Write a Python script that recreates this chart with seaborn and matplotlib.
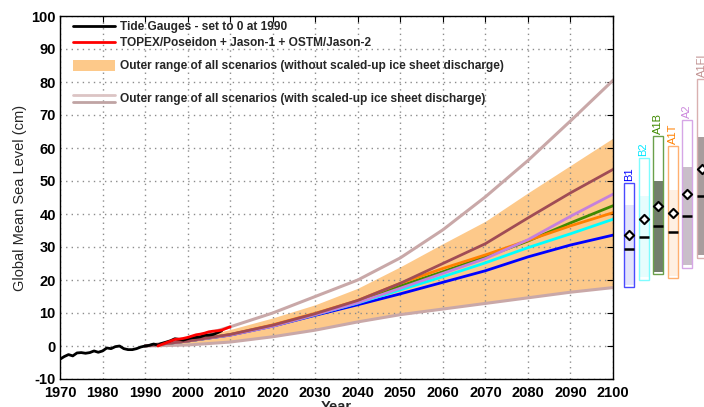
import numpy as np
import pandas as pd
import matplotlib
matplotlib.use("Agg")
import matplotlib.pyplot as plt
import seaborn as sns
from matplotlib.lines import Line2D
from matplotlib.patches import Patch
from matplotlib.legend_handler import HandlerBase

# ---- observed sea level (cm, relative to 1990) ----
tide_years = list(range(1970, 2009))
tide_level = [-4.0, -3.2, -2.6, -3.0, -2.1, -2.0, -2.2, -2.0, -1.5, -1.9,
              -1.5, -0.6, -0.8, -0.2, 0.0, -0.8, -1.1, -1.1, -0.8, -0.3,
              0.0, 0.2, 0.6, 0.3, 0.8, 1.2, 1.6, 2.2, 2.0, 1.8,
              2.2, 2.5, 2.6, 2.8, 3.2, 3.3, 3.5, 4.0, 4.6]

sat_years = list(range(1993, 2011))
sat_level = [0.0, 0.5, 1.0, 1.5, 2.0, 2.1, 2.3, 2.6, 3.0, 3.4,
             3.6, 3.9, 4.3, 4.5, 4.6, 4.8, 5.3, 5.8]

# ---- projections (cm) ----
proj_years = [1990, 2000, 2010, 2020, 2030, 2040, 2050, 2060, 2070, 2080, 2090, 2100]
band_high = [0.0, 2.0, 5.0, 8.5, 12.5, 17.5, 24.0, 31.0, 37.8, 46.4, 54.7, 63.0]
band_low = [0.0, 0.5, 1.4, 3.0, 5.1, 7.6, 9.8, 11.5, 13.1, 14.8, 16.5, 17.9]
ice_high = [0.0, 2.0, 5.8, 10.0, 15.0, 20.0, 26.7, 35.2, 45.2, 56.2, 68.2, 80.5]
ice_low = [0.0, 0.3, 1.2, 2.8, 4.8, 7.3, 9.5, 11.2, 12.9, 14.6, 16.3, 17.7]

scenarios = ["B1", "B2", "A1B", "A1T", "A2", "A1FI"]
proj_B1 = [0.0, 1.5, 3.3, 6.0, 9.3, 12.5, 15.8, 19.3, 22.8, 27.0, 30.6, 33.6]
proj_B2 = [0.0, 1.5, 3.4, 6.1, 9.5, 13.0, 17.0, 21.0, 25.2, 29.8, 34.0, 38.4]
proj_A1B = [0.0, 1.5, 3.4, 6.2, 9.6, 13.3, 18.2, 22.5, 27.0, 31.8, 37.3, 42.5]
proj_A1T = [0.0, 1.5, 3.5, 6.4, 9.9, 13.8, 19.0, 23.5, 27.6, 32.0, 36.4, 40.4]
proj_A2 = [0.0, 1.5, 3.3, 6.0, 9.5, 13.1, 17.5, 22.0, 26.5, 32.2, 39.3, 46.0]
proj_A1FI = [0.0, 1.5, 3.5, 6.3, 9.8, 13.8, 19.0, 25.0, 31.0, 38.8, 46.4, 53.5]

# ---- 2100 ranges per scenario (cm) ----
range_top = [49.4, 57.0, 63.6, 60.6, 68.5, 80.9]
range_bottom = [17.9, 20.0, 21.8, 20.6, 23.6, 26.7]
core_top = [42.7, 45.5, 50.0, 47.3, 54.2, 63.3]
core_bottom = [18.5, 21.0, 22.4, 21.2, 24.5, 27.5]
range_median = [29.4, 33.0, 36.4, 34.5, 39.4, 45.5]
value_2100 = [33.6, 38.4, 42.5, 40.4, 46.0, 53.5]

line_colors = ["#0000ff", "#00ffff", "#3f8a00", "#ff8000", "#c580dd", "#a04c55"]
label_colors = ["#0000ff", "#00e8ff", "#3f8a00", "#ff8000", "#cc88dd", "#c09090"]
edge_colors = ["#4a4aff", "#7ffcff", "#6aa04a", "#ffb070", "#d6a6e6", "#d9b0b0"]
core_colors = ["#e4e4fb", "#e6fdfd", "#737e6c", "#fff0e2", "#c9bec9", "#a89d9d"]

sns.set_theme(style="white")
plt.rcParams["font.family"] = ["Liberation Sans", "DejaVu Sans"]

fig = plt.figure(figsize=(7.04, 4.07), dpi=100)
ax = fig.add_axes([60 / 704, 28 / 407, 553 / 704, 363 / 407])

band_col = "#fdc98a"
ice_col = "#c9a8a8"

ax.fill_between(proj_years, band_low, band_high, color=band_col, lw=0, zorder=1)
sns.lineplot(x=proj_years, y=ice_high, color=ice_col, lw=2.2, ax=ax, zorder=2)
sns.lineplot(x=proj_years, y=ice_low, color=ice_col, lw=2.2, ax=ax, zorder=2)

proj_df = pd.DataFrame({
    "year": proj_years * 6,
    "level": proj_B1 + proj_B2 + proj_A1B + proj_A1T + proj_A2 + proj_A1FI,
    "scenario": sum([[s] * len(proj_years) for s in scenarios], []),
})
sns.lineplot(data=proj_df, x="year", y="level", hue="scenario",
             hue_order=scenarios, palette=line_colors, lw=2.0,
             legend=False, ax=ax, zorder=3)

sns.lineplot(x=tide_years, y=tide_level, color="black", lw=2.0, ax=ax, zorder=4)
sns.lineplot(x=sat_years, y=sat_level, color="#ff0000", lw=2.0, ax=ax, zorder=5)

ax.set_xlim(1970, 2100)
ax.set_ylim(-10, 100)
xt = list(range(1970, 2101, 10))
yt = list(range(-10, 101, 10))
ax.set_xticks(xt)
ax.set_yticks(yt)
ax.set_xticklabels([str(v) for v in xt], fontweight="bold", fontsize=10.5)
ax.set_yticklabels([str(v) for v in yt], fontweight="bold", fontsize=10.5)
ax.tick_params(direction="in", top=True, right=True, length=4, width=0.8,
               colors="black", pad=3)
ax.tick_params(axis="x", pad=5)
ax.set_axisbelow("line")
ax.xaxis.grid(True, linestyle=(0, (1, 3)), color="#8c8c8c", lw=1.0)
ax.yaxis.grid(True, linestyle=(0, (1, 3)), color="#8c8c8c", lw=1.0)
for sp in ax.spines.values():
    sp.set_color("black")
    sp.set_linewidth(1.0)
    sp.set_zorder(10)
ax.set_xlabel("Year", fontweight="bold", fontsize=10.5, labelpad=0)
ax.set_ylabel("Global Mean Sea Level (cm)", fontsize=10.5, labelpad=3)


class HandlerDoubleLine(HandlerBase):
    def create_artists(self, legend, orig_handle, xdescent, ydescent,
                       width, height, fontsize, trans):
        top, bottom = orig_handle
        y1 = height * 0.8 - ydescent
        y2 = height * 0.2 - ydescent
        a = Line2D([-xdescent, width - xdescent], [y1, y1], color=top.get_color(),
                   lw=top.get_linewidth(), transform=trans)
        b = Line2D([-xdescent, width - xdescent], [y2, y2], color=bottom.get_color(),
                   lw=bottom.get_linewidth(), transform=trans)
        return [a, b]


leg_font = {"weight": "bold", "size": 8.6}
leg1 = ax.legend(
    handles=[Line2D([], [], color="black", lw=2), Line2D([], [], color="#ff0000", lw=2)],
    labels=["Tide Gauges - set to 0 at 1990",
            "TOPEX/Poseidon + Jason-1 + OSTM/Jason-2"],
    loc="upper left", bbox_to_anchor=(0.0235, 0.985), frameon=False,
    prop=leg_font, handlelength=3.5, handletextpad=0.4, labelspacing=0.33,
    borderpad=0, borderaxespad=0)
ax.add_artist(leg1)
ice_pair = (Line2D([], [], color="#dcc4c4", lw=2), Line2D([], [], color="#c0a4a4", lw=2))
ax.legend(
    handles=[Patch(facecolor=band_col, edgecolor="none"), ice_pair],
    labels=["Outer range of all scenarios (without scaled-up ice sheet discharge)",
            "Outer range of all scenarios (with scaled-up ice sheet discharge)"],
    handler_map={tuple: HandlerDoubleLine()},
    loc="upper left", bbox_to_anchor=(0.0235, 0.880), frameon=False,
    prop=leg_font, handlelength=3.5, handleheight=1.1, handletextpad=0.4,
    labelspacing=1.7, borderpad=0, borderaxespad=0)

# ---- 2100 range bars to the right of the main panel ----
ax2 = fig.add_axes([615 / 704, 28 / 407, 89 / 704, 363 / 407])
ax2.set_ylim(-10, 100)
ax2.set_xlim(-0.966, 5.17)
ax2.axis("off")
bw = 0.69
for i, name in enumerate(scenarios):
    ax2.bar(i, core_top[i] - core_bottom[i], bottom=core_bottom[i], width=bw,
            color=core_colors[i], lw=0, zorder=1)
    ax2.bar(i, range_top[i] - range_bottom[i], bottom=range_bottom[i], width=bw,
            facecolor="none", edgecolor=edge_colors[i], lw=1.0, zorder=2)
    ax2.hlines(range_median[i], i - bw / 2, i + bw / 2, color="black", lw=1.8, zorder=3)
    ax2.scatter([i], [value_2100[i]], marker="D", s=22, facecolor="white",
                edgecolor="black", linewidth=1.5, zorder=4)
    ax2.text(i, range_top[i] + 0.6, name, rotation=90, ha="center", va="bottom",
             color=label_colors[i], fontsize=8, clip_on=False)

fig.savefig("out.png", dpi=100)
